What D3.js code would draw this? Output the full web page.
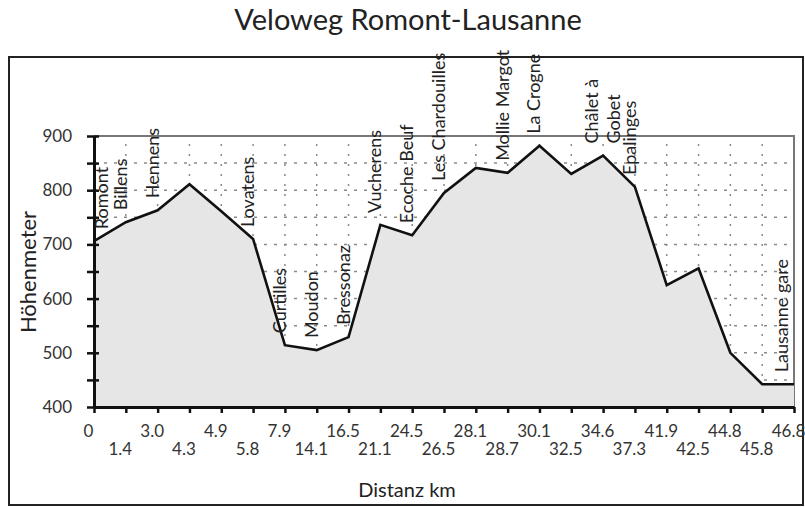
<!DOCTYPE html>
<html>
<head>
<meta charset="utf-8">
<script src="https://cdn.jsdelivr.net/npm/d3@7"></script>
<style>
  html, body { margin: 0; padding: 0; background: #fff; }
  svg { display: block; font-family: Lato, "Open Sans", sans-serif; }
</style>
</head>
<body>
<svg id="chart" width="805" height="507"></svg>
<script>
// ---- data ----
const distances = ["0","1.4","3.0","4.3","4.9","5.8","7.9","14.1","16.5","21.1","24.5","26.5","28.1","28.7","30.1","32.5","34.6","37.3","41.9","42.5","44.8","45.8","46.8"];
const elevations = [706, 741, 763, 811, 761, 710, 514, 505, 529, 736, 717, 795, 841, 832, 882, 830, 864, 806, 625, 656, 500, 442, 442];
const places = ["Romont","Billens","Hennens","","","Lovatens","Curtilles","Moudon","Bressonaz","Vucherens","Ecoche Beuf","Les Chardouilles","","Mollie Margot","La Crogne","","Châlet à|Gobet","Epalinges","","","","","Lausanne gare"];
const yTicks = [400,450,500,550,600,650,700,750,800,850,900];
const yGrid = [450,500,550,600,650,700,750,800,850];
const title = "Veloweg Romont-Lausanne";
const yTitle = "Höhenmeter";
const xTitle = "Distanz km";

// ---- layout ----
const svg = d3.select("#chart");
const pL = 94, pR = 794, pT = 136, pB = 407;
const idx = d3.range(distances.length);
const x = d3.scalePoint().domain(idx).range([pL, pR]);
const y = d3.scaleLinear().domain([400, 900]).range([pB, pT]);

// outer frame
svg.append("rect").attr("x", 9).attr("y", 57).attr("width", 794).attr("height", 448)
  .attr("fill", "none").attr("stroke", "#222").attr("stroke-width", 2);

// title
svg.append("text").attr("x", 408).attr("y", 30).attr("text-anchor", "middle")
  .attr("font-size", 29).attr("fill", "#222").text(title);

// grid
const grid = svg.append("g");
grid.selectAll("line.h").data(yGrid).join("line").attr("class", "h")
  .attr("x1", pL).attr("x2", pR).attr("y1", d => y(d)).attr("y2", d => y(d))
  .attr("stroke", "#8a8a8a").attr("stroke-width", 1.5).attr("stroke-dasharray", "3,7");
grid.selectAll("line.v").data(idx.slice(1, -1)).join("line").attr("class", "v")
  .attr("x1", d => x(d)).attr("x2", d => x(d)).attr("y1", pT + 8).attr("y2", pB)
  .attr("stroke", "#8a8a8a").attr("stroke-width", 1.5).attr("stroke-dasharray", "2,8");

// plot frame (top & right)
svg.append("path").attr("d", `M${pL},${pT}H${pR}V${pB}`)
  .attr("fill", "none").attr("stroke", "#777").attr("stroke-width", 2);

// area + line
const area = d3.area().x((d, i) => x(i)).y0(y(400)).y1(d => y(d));
const line = d3.line().x((d, i) => x(i)).y(d => y(d));
svg.append("path").datum(elevations).attr("d", area).attr("fill", "#e6e6e6");
svg.append("path").datum(elevations).attr("d", line).attr("fill", "none")
  .attr("stroke", "#111").attr("stroke-width", 2.6).attr("stroke-linejoin", "miter");

// y axis
const yAxis = d3.axisLeft(y).tickValues(yTicks).tickSize(7).tickSizeOuter(0).tickPadding(15)
  .tickFormat(d => d % 100 === 0 ? d : "");
const gy = svg.append("g").attr("transform", `translate(${pL},0)`).call(yAxis);
gy.select(".domain").attr("stroke", "#111").attr("stroke-width", 3);
gy.selectAll(".tick line").attr("stroke", "#111").attr("stroke-width", 2.5);
gy.selectAll(".tick").append("line").attr("x1", 0).attr("x2", 5).attr("stroke", "#111").attr("stroke-width", 2.5);
gy.selectAll(".tick text").attr("font-size", 17).attr("fill", "#333").attr("font-family", "Lato, sans-serif");

// x axis
const xAxis = d3.axisBottom(x).tickSize(6).tickSizeOuter(0).tickFormat(i => distances[i]);
const gx = svg.append("g").attr("transform", `translate(0,${pB})`).call(xAxis);
gx.select(".domain").attr("stroke", "#111").attr("stroke-width", 3);
gx.selectAll(".tick line").attr("stroke", "#111").attr("stroke-width", 2.5);
gx.selectAll(".tick text").attr("font-size", 17).attr("fill", "#333").attr("font-family", "Lato, sans-serif")
  .attr("dy", 0).attr("x", -6).attr("y", (d, i) => i % 2 === 0 ? 30 : 48);

// place labels (rotated)
const lab = svg.append("g");
idx.filter(i => places[i]).forEach(i => {
  const lines = places[i].split("|");
  const px = x(i), py = y(elevations[i]) - 12;
  const lh = 22;
  lines.forEach((t, k) => {
    let cx = px - 5 - (lines.length - 1) * lh / 2 + k * lh + (lines.length > 1 ? 5 : 0);
    cx = Math.min(Math.max(cx, pL + 8), pR - 12);
    lab.append("text").attr("transform", `translate(${cx + 6},${py}) rotate(-90)`)
      .attr("font-size", 18).attr("fill", "#222").text(t);
  });
});

// axis titles
svg.append("text").attr("transform", `translate(36,272) rotate(-90)`).attr("text-anchor", "middle")
  .attr("font-size", 22).attr("fill", "#222").text(yTitle);
svg.append("text").attr("x", 407).attr("y", 497).attr("text-anchor", "middle")
  .attr("font-size", 20).attr("fill", "#222").text(xTitle);
</script>
</body>
</html>
